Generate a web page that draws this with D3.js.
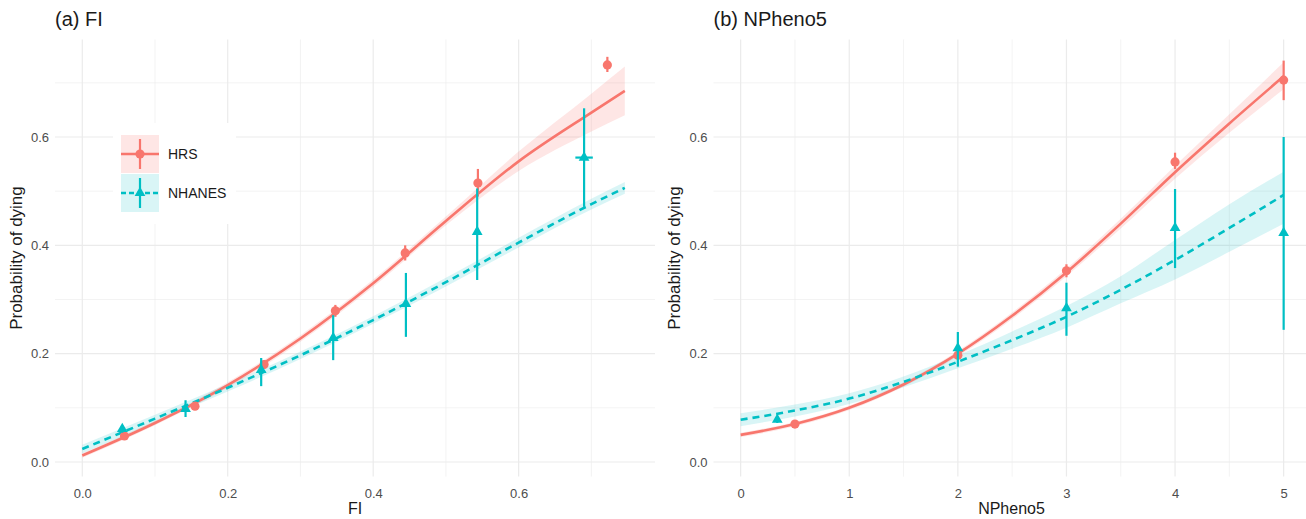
<!DOCTYPE html>
<html><head><meta charset="utf-8">
<script src="https://cdn.jsdelivr.net/npm/d3@7"></script>
<style>body{margin:0;background:#fff}svg{display:block;font-family:"Liberation Sans",Arial,sans-serif}</style>
</head><body><svg id="c" width="1306" height="519"></svg>
<script>
// ---------- DATA ----------
const seriesNames = ["HRS", "NHANES"];
const colors = ["#F8766D", "#00BFC4"];
const yTicks = [0, 0.2, 0.4, 0.6];
const yMinor = [0.1, 0.3, 0.5, 0.7];

// Panel (a) FI
const aTicks = [0, 0.2, 0.4, 0.6];
const aMinor = [0.1, 0.3, 0.5, 0.7];
const aHrsX = [0.058, 0.155, 0.25, 0.348, 0.444, 0.544, 0.722];
const aHrsY = [0.048, 0.103, 0.18, 0.279, 0.386, 0.515, 0.733];
const aHrsLo = [0.044, 0.098, 0.172, 0.268, 0.372, 0.49, 0.72];
const aHrsHi = [0.052, 0.108, 0.188, 0.29, 0.4, 0.541, 0.748];
const aNhX = [0.055, 0.142, 0.246, 0.345, 0.445, 0.543, 0.69];
const aNhY = [0.061, 0.098, 0.17, 0.229, 0.292, 0.425, 0.562];
const aNhLo = [0.054, 0.083, 0.14, 0.188, 0.231, 0.336, 0.471];
const aNhHi = [0.068, 0.114, 0.192, 0.271, 0.349, 0.505, 0.653];
const aNhXerr = [0, 0, 0, 0, 0, 0, 0.012];
const aFitX = [0, 0.1, 0.2, 0.3, 0.4, 0.5, 0.6, 0.7, 0.746];
const aHrsFit = [0.012, 0.072, 0.142, 0.228, 0.33, 0.445, 0.555, 0.645, 0.685];
const aHrsFitLo = [0.008, 0.068, 0.137, 0.222, 0.323, 0.437, 0.537, 0.61, 0.64];
const aHrsFitHi = [0.016, 0.076, 0.147, 0.234, 0.337, 0.453, 0.573, 0.68, 0.73];
const aNhFit = [0.024, 0.08, 0.137, 0.197, 0.262, 0.332, 0.405, 0.476, 0.506];
const aNhFitLo = [0.016, 0.073, 0.13, 0.19, 0.255, 0.324, 0.396, 0.466, 0.495];
const aNhFitHi = [0.032, 0.087, 0.144, 0.204, 0.269, 0.34, 0.414, 0.486, 0.517];

// Panel (b) NPheno5
const bTicks = [0, 1, 2, 3, 4, 5];
const bMinor = [0.5, 1.5, 2.5, 3.5, 4.5];
const bHrsX = [0.5, 2, 3, 4, 5];
const bHrsY = [0.07, 0.197, 0.353, 0.554, 0.705];
const bHrsLo = [0.066, 0.19, 0.341, 0.541, 0.668];
const bHrsHi = [0.074, 0.204, 0.365, 0.571, 0.741];
const bNhX = [0.337, 2, 3, 4, 5];
const bNhY = [0.078, 0.21, 0.284, 0.432, 0.423];
const bNhLo = [0.072, 0.176, 0.233, 0.358, 0.244];
const bNhHi = [0.084, 0.24, 0.331, 0.504, 0.6];
const bNhXerr = [0, 0, 0, 0, 0];
const bFitX = [0, 0.5, 1, 1.5, 2, 2.5, 3, 3.5, 4, 4.5, 5];
const bHrsFit = [0.05, 0.07, 0.1, 0.143, 0.2, 0.27, 0.35, 0.44, 0.535, 0.625, 0.712];
const bHrsFitLo = [0.046, 0.066, 0.096, 0.139, 0.195, 0.264, 0.343, 0.431, 0.523, 0.608, 0.688];
const bHrsFitHi = [0.054, 0.074, 0.104, 0.147, 0.205, 0.276, 0.357, 0.449, 0.547, 0.642, 0.738];
const bNhFit = [0.078, 0.095, 0.117, 0.148, 0.185, 0.225, 0.268, 0.318, 0.373, 0.432, 0.493];
const bNhFitLo = [0.066, 0.084, 0.107, 0.138, 0.173, 0.209, 0.248, 0.293, 0.337, 0.388, 0.44];
const bNhFitHi = [0.09, 0.106, 0.127, 0.158, 0.197, 0.241, 0.288, 0.343, 0.41, 0.476, 0.536];

// ---------- DRAW ----------
const svg = d3.select("#c");
const yTop = 39.5, yBot = 476.6;

function panel(cfg) {
  const x = d3.scaleLinear().domain(cfg.xdom).range(cfg.xr);
  const y = d3.scaleLinear().domain([-0.027, 0.78]).range([yBot, yTop]);
  const g = svg.append("g");
  // grid
  g.selectAll(null).data(yMinor).join("line").attr("x1", cfg.xr[0]).attr("x2", cfg.xr[1])
    .attr("y1", d => y(d)).attr("y2", d => y(d)).attr("stroke", "#ebebeb").attr("stroke-width", 0.6);
  g.selectAll(null).data(cfg.minor).join("line").attr("y1", yTop).attr("y2", yBot)
    .attr("x1", d => x(d)).attr("x2", d => x(d)).attr("stroke", "#ebebeb").attr("stroke-width", 0.6);
  g.selectAll(null).data(yTicks).join("line").attr("x1", cfg.xr[0]).attr("x2", cfg.xr[1])
    .attr("y1", d => y(d)).attr("y2", d => y(d)).attr("stroke", "#ebebeb").attr("stroke-width", 1.2);
  g.selectAll(null).data(cfg.ticks).join("line").attr("y1", yTop).attr("y2", yBot)
    .attr("x1", d => x(d)).attr("x2", d => x(d)).attr("stroke", "#ebebeb").attr("stroke-width", 1.2);
  // axes text
  const yAxis = d3.axisLeft(y).tickValues(yTicks).tickFormat(d3.format(".1f")).tickSize(0).tickPadding(4);
  const ya = g.append("g").attr("transform", `translate(${cfg.xr[0] - 2},0)`).call(yAxis);
  ya.select(".domain").remove();
  ya.selectAll("text").attr("fill", "#4d4d4d").style("font-size", "13px");
  const xAxis = d3.axisBottom(x).tickValues(cfg.ticks).tickFormat(cfg.fmt).tickSize(0).tickPadding(12);
  const xa = g.append("g").attr("transform", `translate(0,${yBot})`).call(xAxis);
  xa.select(".domain").remove();
  xa.selectAll("text").attr("fill", "#4d4d4d").style("font-size", "13px");
  g.append("text").attr("x", cfg.xtCenter).attr("y", 514)
    .attr("text-anchor", "middle").style("font-size", "16px").attr("fill", "#1a1a1a").text(cfg.xTitle);
  g.append("text").attr("transform", `translate(${cfg.xr[0] - 33.5},${(yTop + yBot) / 2}) rotate(-90)`)
    .attr("text-anchor", "middle").style("font-size", "17px").attr("fill", "#1a1a1a").text("Probability of dying");
  g.append("text").attr("x", cfg.xr[0]).attr("y", 26).style("font-size", "20px").attr("fill", "#1a1a1a").text(cfg.title);

  const area = d3.area().x(d => x(d[0])).y0(d => y(d[1])).y1(d => y(d[2])).curve(d3.curveMonotoneX);
  const line = d3.line().x(d => x(d[0])).y(d => y(d[1])).curve(d3.curveMonotoneX);
  cfg.fits.forEach((f, i) => {
    g.append("path").datum(cfg.fitX.map((v, k) => [v, f.lo[k], f.hi[k]]))
      .attr("d", area).attr("fill", colors[i]).attr("fill-opacity", i === 0 ? 0.18 : 0.15);
  });
  cfg.fits.forEach((f, i) => {
    g.append("path").datum(cfg.fitX.map((v, k) => [v, f.m[k]]))
      .attr("d", line).attr("fill", "none").attr("stroke", colors[i]).attr("stroke-width", 2.6)
      .attr("stroke-dasharray", i === 1 ? "7,5" : null);
  });
  cfg.pts.forEach((p, i) => {
    const d = p.x.map((v, k) => ({x: v, y: p.y[k], lo: p.lo[k], hi: p.hi[k], xe: p.xe ? p.xe[k] : 0}));
    g.selectAll(null).data(d).join("line").attr("x1", d => x(d.x)).attr("x2", d => x(d.x))
      .attr("y1", d => y(d.lo)).attr("y2", d => y(d.hi)).attr("stroke", colors[i]).attr("stroke-width", 2.2);
    g.selectAll(null).data(d.filter(d => d.xe > 0)).join("line").attr("y1", d => y(d.y)).attr("y2", d => y(d.y))
      .attr("x1", d => x(d.x - d.xe)).attr("x2", d => x(d.x + d.xe)).attr("stroke", colors[i]).attr("stroke-width", 2.2);
    g.selectAll(null).data(d).join("path")
      .attr("transform", d => `translate(${x(d.x)},${y(d.y)})`)
      .attr("d", d3.symbol().type(i === 0 ? d3.symbolCircle : d3.symbolTriangle).size(i === 0 ? 66 : 50)())
      .attr("fill", colors[i]);
  });
}

panel({
  xdom: [-0.0375, 0.7875], xr: [55, 655], ticks: aTicks, minor: aMinor, fmt: d3.format(".1f"),
  xTitle: "FI", xtCenter: 355, title: "(a) FI", fitX: aFitX,
  fits: [{m: aHrsFit, lo: aHrsFitLo, hi: aHrsFitHi}, {m: aNhFit, lo: aNhFitLo, hi: aNhFitHi}],
  pts: [{x: aHrsX, y: aHrsY, lo: aHrsLo, hi: aHrsHi}, {x: aNhX, y: aNhY, lo: aNhLo, hi: aNhHi, xe: aNhXerr}]
});
panel({
  xdom: [-0.25, 5.25], xr: [713.5, 1310.8], ticks: bTicks, minor: bMinor, fmt: d3.format("d"),
  xTitle: "NPheno5", xtCenter: 1011.5, title: "(b) NPheno5", fitX: bFitX,
  fits: [{m: bHrsFit, lo: bHrsFitLo, hi: bHrsFitHi}, {m: bNhFit, lo: bNhFitLo, hi: bNhFitHi}],
  pts: [{x: bHrsX, y: bHrsY, lo: bHrsLo, hi: bHrsHi}, {x: bNhX, y: bNhY, lo: bNhLo, hi: bNhHi, xe: bNhXerr}]
});

// legend
const lg = svg.append("g");
lg.append("rect").attr("x", 113).attr("y", 123).attr("width", 123).attr("height", 101).attr("fill", "#fff");
seriesNames.forEach((s, i) => {
  const ky = 135 + i * 39;
  lg.append("rect").attr("x", 121).attr("y", ky).attr("width", 38).attr("height", 38)
    .attr("fill", colors[i]).attr("fill-opacity", i === 0 ? 0.18 : 0.15);
  lg.append("line").attr("x1", 121).attr("x2", 159).attr("y1", ky + 19).attr("y2", ky + 19)
    .attr("stroke", colors[i]).attr("stroke-width", 2.4).attr("stroke-dasharray", i === 1 ? "5,3" : null);
  lg.append("line").attr("x1", 140).attr("x2", 140).attr("y1", ky + 4).attr("y2", ky + 34)
    .attr("stroke", colors[i]).attr("stroke-width", 2.2);
  lg.append("path").attr("transform", `translate(140,${ky + 19})`)
    .attr("d", d3.symbol().type(i === 0 ? d3.symbolCircle : d3.symbolTriangle).size(i === 0 ? 66 : 50)())
    .attr("fill", colors[i]);
  lg.append("text").attr("x", 168).attr("y", ky + 19).attr("dy", "0.35em").style("font-size", "14px")
    .attr("fill", "#1a1a1a").text(s);
});
</script></body></html>
